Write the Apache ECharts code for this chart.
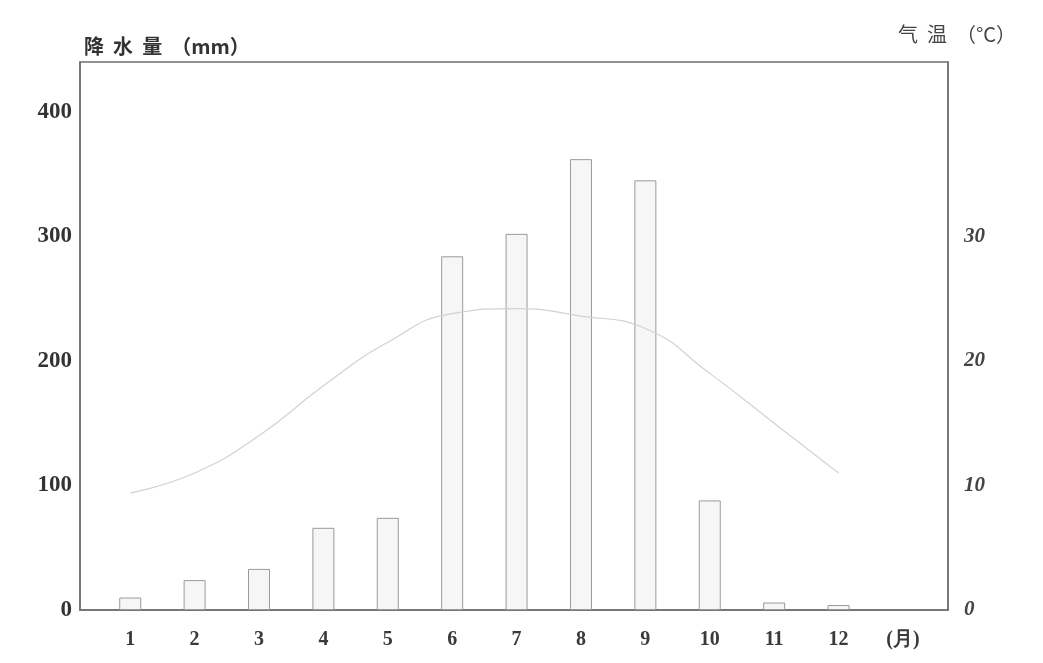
<!DOCTYPE html>
<html>
<head>
<meta charset="utf-8">
<script src="https://cdn.jsdelivr.net/npm/echarts@6/dist/echarts.min.js"></script>
<style>html,body{margin:0;padding:0;background:#fff;}#c{width:1043px;height:663px;}</style>
</head>
<body>
<div id="c"></div>
<script>
const months = [1, 2, 3, 4, 5, 6, 7, 8, 9, 10, 11, 12];
const precipitation = [10, 24, 33, 66, 74, 284, 302, 362, 345, 88, 6, 4];
const temperature = [9.4, 11, 14, 18, 21.5, 23.8, 24.2, 23.6, 22.6, 19, 15, 11];
const leftTicks = [0, 100, 200, 300, 400];
const rightTicks = [0, 10, 20, 30];
const monthUnit = '(月)';

const chart = echarts.init(document.getElementById('c'));
const serif = 'Liberation Serif';
chart.setOption({
  backgroundColor: '#fff',
  animation: false,
  grid: { left: 80, right: 95, top: 62, bottom: 53, show: true, borderColor: '#6f6f6f', borderWidth: 1.5 },
  xAxis: {
    type: 'value', min: 0.22, max: 13.7,
    splitLine: { show: false },
    axisLine: { show: true, lineStyle: { color: '#6f6f6f', width: 1.5 } },
    axisTick: { show: false },
    axisLabel: {
      customValues: months.concat([13]),
      formatter: v => v === 13 ? monthUnit : String(v),
      fontFamily: serif, fontSize: 20, fontWeight: 'bold', color: '#3a3a3a', margin: 20
    }
  },
  yAxis: [
    {
      type: 'value', min: 0, max: 440, interval: 100,
      name: '降  水  量  （mm）', nameLocation: 'end', nameGap: 6,
      nameTextStyle: { fontFamily: 'Noto Sans CJK SC', fontSize: 20, fontWeight: 'bold', color: '#333', align: 'left', padding: [0, 0, 0, 4] },
      splitLine: { show: false },
      axisLine: { show: true, lineStyle: { color: '#6f6f6f', width: 1.5 } },
      axisTick: { show: false },
      axisLabel: {
        customValues: leftTicks,
        fontFamily: serif, fontSize: 23, fontWeight: 'bold', color: '#333', margin: 8
      }
    },
    {
      type: 'value', min: 0, max: 44, interval: 10, position: 'right',
      name: '气  温  （°C）', nameLocation: 'end', nameGap: 18,
      nameTextStyle: { fontFamily: 'Noto Sans CJK SC', fontSize: 20, color: '#444', align: 'left', padding: [0, 0, 0, -50] },
      splitLine: { show: false },
      axisLine: { show: true, lineStyle: { color: '#6f6f6f', width: 1.5 } },
      axisTick: { show: false },
      axisLabel: {
        customValues: rightTicks,
        fontFamily: serif, fontStyle: 'italic', fontWeight: 'bold', fontSize: 21, color: '#444', margin: 16
      }
    }
  ],
  series: [
    {
      type: 'bar', yAxisIndex: 0, barWidth: 22,
      data: months.map((m, i) => [m, precipitation[i]]),
      itemStyle: { color: '#f6f6f6', borderColor: '#9a9a9a', borderWidth: 1 }
    },
    {
      type: 'line', yAxisIndex: 1, smooth: true, showSymbol: false,
      data: months.map((m, i) => [m, temperature[i]]),
      lineStyle: { color: '#d2d2d2', width: 1.2 }
    }
  ]
});
</script>
</body>
</html>
